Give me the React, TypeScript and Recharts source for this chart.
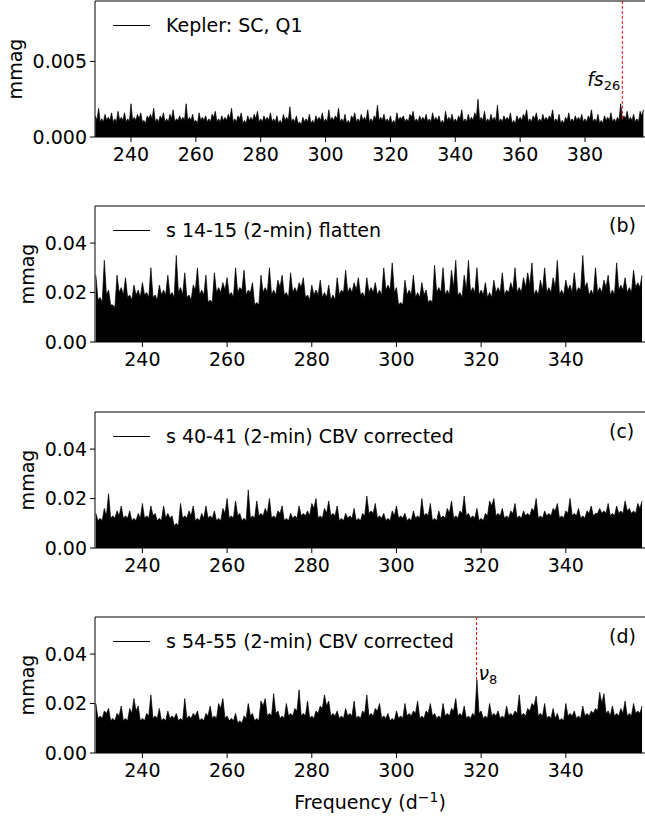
import React from "react";
import { AreaChart, Area, XAxis, YAxis, ReferenceLine } from "recharts";

const FONT = "'DejaVu Sans', sans-serif";

// amplitude spectra: a local peak at every whole d^-1
// and the trough of the noise band half way between two peaks
const freqStart = 229;

// (a) Kepler SC, Q1  (229 ... 398)
const keplerPeaks = [
  0.0014, 0.0019, 0.0012, 0.0015, 0.0013, 0.0016, 0.0012, 0.0017, 0.0013, 0.0016,
  0.0012, 0.0022, 0.0013, 0.0015, 0.0016, 0.0011, 0.0014, 0.0015, 0.0019, 0.0012,
  0.0014, 0.0016, 0.0012, 0.0015, 0.0018, 0.0012, 0.0014, 0.0013, 0.0022, 0.0013,
  0.0015, 0.0011, 0.0016, 0.0013, 0.0014, 0.0012, 0.0015, 0.0017, 0.0012, 0.0014,
  0.0013, 0.0015, 0.0019, 0.0012, 0.0014, 0.0016, 0.0011, 0.0014, 0.0013, 0.0015,
  0.0017, 0.0012, 0.0014, 0.0013, 0.0016, 0.0012, 0.0014, 0.0011, 0.0015, 0.0013,
  0.0020, 0.0012, 0.0014, 0.0010, 0.0013, 0.0012, 0.0015, 0.0011, 0.0014, 0.0013,
  0.0016, 0.0012, 0.0018, 0.0013, 0.0014, 0.0019, 0.0012, 0.0015, 0.0011, 0.0014,
  0.0016, 0.0012, 0.0015, 0.0013, 0.0018, 0.0012, 0.0014, 0.0021, 0.0013, 0.0015,
  0.0012, 0.0014, 0.0011, 0.0016, 0.0013, 0.0014, 0.0012, 0.0015, 0.0017, 0.0012,
  0.0014, 0.0013, 0.0015, 0.0012, 0.0016, 0.0013, 0.0014, 0.0011, 0.0017, 0.0013,
  0.0015, 0.0012, 0.0014, 0.0018, 0.0012, 0.0015, 0.0013, 0.0016, 0.0025, 0.0013,
  0.0017, 0.0012, 0.0015, 0.0013, 0.0021, 0.0012, 0.0014, 0.0013, 0.0016, 0.0011,
  0.0014, 0.0013, 0.0015, 0.0018, 0.0012, 0.0014, 0.0016, 0.0012, 0.0015, 0.0013,
  0.0014, 0.0018, 0.0012, 0.0015, 0.0011, 0.0013, 0.0016, 0.0012, 0.0014, 0.0013,
  0.0015, 0.0012, 0.0014, 0.0018, 0.0012, 0.0015, 0.0011, 0.0014, 0.0013, 0.0016,
  0.0012, 0.0013, 0.0022, 0.0014, 0.0017, 0.0013, 0.0015, 0.0012, 0.0017, 0.0018,
];
const keplerTroughs = [
  0.0011, 0.0010, 0.0010, 0.0011, 0.0011, 0.0010, 0.0010, 0.0011, 0.0011, 0.0010,
  0.0010, 0.0011, 0.0011, 0.0012, 0.0010, 0.0009, 0.0012, 0.0012, 0.0010, 0.0010,
  0.0012, 0.0010, 0.0010, 0.0012, 0.0010, 0.0011, 0.0011, 0.0011, 0.0011, 0.0011,
  0.0010, 0.0009, 0.0011, 0.0011, 0.0010, 0.0010, 0.0013, 0.0010, 0.0010, 0.0011,
  0.0011, 0.0012, 0.0010, 0.0010, 0.0012, 0.0009, 0.0009, 0.0011, 0.0011, 0.0012,
  0.0010, 0.0010, 0.0011, 0.0011, 0.0010, 0.0010, 0.0009, 0.0009, 0.0011, 0.0011,
  0.0010, 0.0010, 0.0009, 0.0008, 0.0010, 0.0010, 0.0009, 0.0009, 0.0011, 0.0011,
  0.0010, 0.0010, 0.0011, 0.0011, 0.0012, 0.0010, 0.0010, 0.0009, 0.0009, 0.0012,
  0.0010, 0.0010, 0.0011, 0.0011, 0.0010, 0.0010, 0.0012, 0.0011, 0.0011, 0.0010,
  0.0010, 0.0009, 0.0009, 0.0011, 0.0012, 0.0010, 0.0010, 0.0013, 0.0010, 0.0010,
  0.0011, 0.0011, 0.0010, 0.0010, 0.0011, 0.0011, 0.0009, 0.0009, 0.0011, 0.0011,
  0.0010, 0.0010, 0.0012, 0.0010, 0.0010, 0.0011, 0.0011, 0.0013, 0.0011, 0.0011,
  0.0010, 0.0010, 0.0011, 0.0011, 0.0010, 0.0010, 0.0011, 0.0011, 0.0009, 0.0009,
  0.0011, 0.0011, 0.0013, 0.0010, 0.0010, 0.0012, 0.0010, 0.0010, 0.0011, 0.0011,
  0.0012, 0.0010, 0.0010, 0.0009, 0.0009, 0.0011, 0.0010, 0.0010, 0.0011, 0.0011,
  0.0010, 0.0010, 0.0012, 0.0010, 0.0010, 0.0009, 0.0009, 0.0011, 0.0011, 0.0010,
  0.0010, 0.0011, 0.0012, 0.0012, 0.0011, 0.0011, 0.0010, 0.0010, 0.0014,
];

// (b) s 14-15 (2-min) flatten  (229 ... 358)
const s1415Peaks = [
  0.027, 0.018, 0.033, 0.021, 0.015, 0.027, 0.022, 0.026, 0.019, 0.023,
  0.021, 0.024, 0.020, 0.030, 0.019, 0.023, 0.021, 0.027, 0.020, 0.035,
  0.022, 0.028, 0.019, 0.023, 0.030, 0.021, 0.027, 0.017, 0.028, 0.022,
  0.024, 0.026, 0.020, 0.030, 0.022, 0.029, 0.021, 0.024, 0.016, 0.027,
  0.022, 0.030, 0.021, 0.025, 0.027, 0.020, 0.028, 0.022, 0.024, 0.026,
  0.019, 0.023, 0.021, 0.025, 0.020, 0.023, 0.019, 0.026, 0.021, 0.029,
  0.022, 0.024, 0.026, 0.020, 0.026, 0.022, 0.024, 0.021, 0.030, 0.023,
  0.032, 0.022, 0.016, 0.025, 0.021, 0.027, 0.020, 0.024, 0.021, 0.017,
  0.031, 0.022, 0.030, 0.021, 0.029, 0.033, 0.020, 0.027, 0.033, 0.022,
  0.030, 0.021, 0.024, 0.020, 0.025, 0.022, 0.028, 0.021, 0.024, 0.030,
  0.022, 0.026, 0.028, 0.032, 0.021, 0.025, 0.030, 0.022, 0.026, 0.033,
  0.021, 0.025, 0.023, 0.028, 0.022, 0.035, 0.024, 0.021, 0.030, 0.022,
  0.025, 0.027, 0.021, 0.032, 0.023, 0.026, 0.022, 0.029, 0.024, 0.027,
];
const s1415Troughs = [
  0.017, 0.016, 0.019, 0.015, 0.014, 0.020, 0.019, 0.018, 0.017, 0.019,
  0.018, 0.019, 0.018, 0.018, 0.017, 0.019, 0.019, 0.019, 0.018, 0.020,
  0.019, 0.018, 0.017, 0.021, 0.019, 0.019, 0.016, 0.016, 0.020, 0.020,
  0.021, 0.019, 0.018, 0.020, 0.021, 0.019, 0.020, 0.015, 0.015, 0.020,
  0.020, 0.019, 0.019, 0.022, 0.019, 0.018, 0.020, 0.020, 0.022, 0.018,
  0.017, 0.019, 0.019, 0.018, 0.018, 0.017, 0.017, 0.019, 0.020, 0.020,
  0.020, 0.021, 0.019, 0.018, 0.020, 0.020, 0.019, 0.019, 0.021, 0.021,
  0.020, 0.015, 0.015, 0.019, 0.019, 0.018, 0.018, 0.019, 0.016, 0.016,
  0.020, 0.020, 0.019, 0.019, 0.022, 0.019, 0.018, 0.021, 0.020, 0.020,
  0.019, 0.019, 0.018, 0.018, 0.020, 0.020, 0.019, 0.020, 0.021, 0.020,
  0.020, 0.022, 0.023, 0.019, 0.019, 0.021, 0.020, 0.020, 0.022, 0.019,
  0.019, 0.021, 0.020, 0.020, 0.021, 0.022, 0.019, 0.019, 0.020, 0.020,
  0.022, 0.019, 0.019, 0.021, 0.021, 0.020, 0.020, 0.022, 0.022,
];

// (c) s 40-41 (2-min) CBV corrected  (229 ... 358)
const s4041Peaks = [
  0.014, 0.012, 0.016, 0.022, 0.013, 0.015, 0.017, 0.013, 0.015, 0.012,
  0.014, 0.018, 0.013, 0.017, 0.014, 0.012, 0.017, 0.014, 0.013, 0.010,
  0.018, 0.013, 0.015, 0.017, 0.012, 0.014, 0.017, 0.013, 0.015, 0.012,
  0.016, 0.020, 0.013, 0.019, 0.014, 0.012, 0.0235, 0.013, 0.019, 0.014,
  0.016, 0.020, 0.013, 0.015, 0.017, 0.012, 0.014, 0.013, 0.017, 0.014,
  0.015, 0.018, 0.020, 0.013, 0.016, 0.019, 0.014, 0.017, 0.012, 0.014,
  0.013, 0.016, 0.012, 0.014, 0.021, 0.015, 0.018, 0.013, 0.014, 0.012,
  0.015, 0.017, 0.013, 0.014, 0.012, 0.015, 0.013, 0.020, 0.014, 0.018,
  0.012, 0.015, 0.013, 0.016, 0.019, 0.013, 0.015, 0.021, 0.014, 0.013,
  0.016, 0.012, 0.014, 0.019, 0.020, 0.014, 0.016, 0.013, 0.015, 0.018,
  0.013, 0.015, 0.014, 0.016, 0.020, 0.013, 0.015, 0.014, 0.016, 0.018,
  0.013, 0.015, 0.020, 0.014, 0.016, 0.013, 0.015, 0.017, 0.014, 0.016,
  0.015, 0.018, 0.014, 0.017, 0.015, 0.019, 0.016, 0.015, 0.018, 0.019,
];
const s4041Troughs = [
  0.011, 0.011, 0.013, 0.012, 0.012, 0.013, 0.012, 0.012, 0.011, 0.011,
  0.012, 0.012, 0.012, 0.013, 0.011, 0.011, 0.012, 0.012, 0.009, 0.009,
  0.012, 0.012, 0.013, 0.011, 0.011, 0.012, 0.012, 0.012, 0.011, 0.011,
  0.014, 0.012, 0.012, 0.013, 0.011, 0.011, 0.012, 0.012, 0.013, 0.013,
  0.014, 0.012, 0.012, 0.014, 0.011, 0.011, 0.012, 0.012, 0.013, 0.013,
  0.013, 0.016, 0.012, 0.012, 0.014, 0.013, 0.013, 0.011, 0.011, 0.012,
  0.012, 0.011, 0.011, 0.013, 0.014, 0.014, 0.012, 0.012, 0.011, 0.011,
  0.013, 0.012, 0.012, 0.011, 0.011, 0.012, 0.012, 0.013, 0.013, 0.011,
  0.011, 0.012, 0.012, 0.014, 0.012, 0.012, 0.014, 0.013, 0.012, 0.012,
  0.011, 0.011, 0.013, 0.017, 0.013, 0.013, 0.012, 0.012, 0.014, 0.012,
  0.012, 0.013, 0.013, 0.015, 0.012, 0.012, 0.013, 0.013, 0.015, 0.012,
  0.012, 0.014, 0.013, 0.013, 0.012, 0.012, 0.014, 0.013, 0.014, 0.014,
  0.014, 0.013, 0.013, 0.014, 0.014, 0.015, 0.014, 0.014, 0.016,
];

// (d) s 54-55 (2-min) CBV corrected  (229 ... 358)
const s5455Peaks = [
  0.020, 0.015, 0.017, 0.018, 0.014, 0.016, 0.019, 0.014, 0.018, 0.022,
  0.019, 0.014, 0.016, 0.0235, 0.015, 0.018, 0.014, 0.017, 0.015, 0.016,
  0.014, 0.022, 0.015, 0.016, 0.017, 0.014, 0.016, 0.019, 0.015, 0.020,
  0.022, 0.015, 0.014, 0.016, 0.013, 0.015, 0.020, 0.016, 0.014, 0.021,
  0.022, 0.016, 0.024, 0.017, 0.015, 0.020, 0.016, 0.018, 0.0255, 0.016,
  0.021, 0.015, 0.017, 0.019, 0.0235, 0.021, 0.016, 0.017, 0.015, 0.018,
  0.016, 0.021, 0.015, 0.017, 0.0235, 0.016, 0.018, 0.020, 0.015, 0.016,
  0.014, 0.017, 0.015, 0.020, 0.016, 0.017, 0.021, 0.015, 0.017, 0.020,
  0.016, 0.015, 0.020, 0.016, 0.018, 0.022, 0.016, 0.019, 0.015, 0.016,
  0.0295, 0.017, 0.015, 0.020, 0.016, 0.017, 0.015, 0.019, 0.016, 0.017,
  0.0235, 0.016, 0.018, 0.020, 0.023, 0.016, 0.020, 0.015, 0.018, 0.016,
  0.014, 0.020, 0.016, 0.017, 0.015, 0.019, 0.016, 0.017, 0.018, 0.0245,
  0.024, 0.017, 0.019, 0.016, 0.018, 0.021, 0.016, 0.020, 0.017, 0.019,
];
const s5455Troughs = [
  0.014, 0.014, 0.016, 0.013, 0.013, 0.015, 0.013, 0.013, 0.016, 0.017,
  0.013, 0.013, 0.015, 0.014, 0.014, 0.013, 0.013, 0.014, 0.014, 0.013,
  0.013, 0.014, 0.014, 0.015, 0.013, 0.013, 0.015, 0.014, 0.014, 0.018,
  0.014, 0.013, 0.013, 0.012, 0.012, 0.014, 0.015, 0.013, 0.013, 0.019,
  0.015, 0.015, 0.016, 0.014, 0.014, 0.015, 0.015, 0.017, 0.015, 0.015,
  0.014, 0.014, 0.016, 0.018, 0.019, 0.015, 0.015, 0.014, 0.014, 0.015,
  0.015, 0.014, 0.014, 0.016, 0.015, 0.015, 0.017, 0.014, 0.014, 0.013,
  0.013, 0.014, 0.014, 0.015, 0.015, 0.016, 0.014, 0.014, 0.016, 0.015,
  0.014, 0.014, 0.015, 0.015, 0.017, 0.015, 0.015, 0.014, 0.014, 0.015,
  0.016, 0.014, 0.014, 0.015, 0.015, 0.014, 0.014, 0.015, 0.015, 0.016,
  0.015, 0.015, 0.017, 0.019, 0.015, 0.015, 0.014, 0.014, 0.014, 0.013,
  0.013, 0.015, 0.015, 0.014, 0.014, 0.015, 0.015, 0.016, 0.017, 0.020,
  0.016, 0.015, 0.015, 0.015, 0.016, 0.015, 0.015, 0.016, 0.016,
];

const xTicksKepler = [240, 260, 280, 300, 320, 340, 360, 380];
const xTicksTess = [240, 260, 280, 300, 320, 340];
const yTicksKepler = [0, 0.005];
const yTicksTess = [0, 0.02, 0.04];

const fs26 = 391.5;
const nu8 = 318.9;

const PLOT_H = 136;
const AXIS_W = 95;
const FS = 19;

function toSpectrum(peaks, troughs) {
  const rows = [];
  peaks.forEach((a, i) => {
    rows.push({ f: freqStart + i, a });
    if (i < troughs.length) rows.push({ f: freqStart + i + 0.5, a: troughs[i] });
  });
  return rows;
}

// amplitude of the sample closest to a given frequency
function ampAt(rows, f) {
  let best = rows[0];
  rows.forEach((r) => {
    if (Math.abs(r.f - f) < Math.abs(best.f - f)) best = r;
  });
  return best.a;
}

function Sub({ base, sub }) {
  return (
    <>
      <tspan fontStyle="italic">{base}</tspan>
      <tspan fontSize={13} dy={4}>{sub}</tspan>
    </>
  );
}

function Panel({ top, peaks, troughs, xDomain, xTicks, yMax, yTicks, digits, legend, tag, marker, showXLabel, labelX }) {
  const data = toSpectrum(peaks, troughs);
  const mt = 6;
  const xh = 30;
  const h = showXLabel ? 215 : 172;
  const tickStyle = { fill: "#000", fontSize: FS, fontFamily: FONT };

  return (
    <div style={{ position: "absolute", left: 0, top, width: 645, height: h }}>
      <AreaChart
        width={645}
        height={h}
        data={data}
        margin={{ top: mt, right: 0, bottom: h - mt - PLOT_H - xh, left: 0 }}
      >
        <XAxis
          dataKey="f"
          type="number"
          domain={xDomain}
          allowDataOverflow
          ticks={xTicks}
          height={xh}
          tickSize={5}
          tickMargin={6}
          tick={tickStyle}
          axisLine={{ stroke: "#000" }}
          tickLine={{ stroke: "#000" }}
        />
        <YAxis
          type="number"
          domain={[0, yMax]}
          allowDataOverflow
          ticks={yTicks}
          width={AXIS_W}
          tickSize={5}
          tickMargin={3}
          tick={tickStyle}
          tickFormatter={(v) => v.toFixed(digits)}
          axisLine={{ stroke: "#000" }}
          tickLine={{ stroke: "#000" }}
        />
        <ReferenceLine y={yMax} stroke="#000" strokeWidth={1} />
        <Area
          dataKey="a"
          type="linear"
          stroke="#000"
          strokeWidth={0.7}
          fill="#000"
          fillOpacity={1}
          isAnimationActive={false}
          dot={false}
          activeDot={false}
        />
        {marker && (
          <ReferenceLine
            segment={[
              { x: marker.x, y: ampAt(data, marker.x) },
              { x: marker.x, y: yMax },
            ]}
            stroke="#ff0000"
            strokeWidth={1}
            strokeDasharray="3 2"
          />
        )}
        {marker && (
          <ReferenceLine
            x={marker.x}
            stroke="none"
            label={({ viewBox }) => (
              <text
                x={viewBox.x + marker.dx}
                y={viewBox.y + marker.dy}
                textAnchor={marker.anchor}
                fontSize={FS}
                fontFamily={FONT}
                fill="#000"
              >
                <Sub base={marker.base} sub={marker.sub} />
              </text>
            )}
          />
        )}
      </AreaChart>

      <div
        style={{
          position: "absolute",
          left: 113,
          top: mt + 24,
          width: 37,
          borderTop: "1px solid #000",
        }}
      />
      <div
        style={{
          position: "absolute",
          left: 166,
          top: mt + 12,
          fontFamily: FONT,
          fontSize: FS,
          lineHeight: "24px",
          whiteSpace: "nowrap",
        }}
      >
        {legend}
      </div>
      {tag && (
        <div
          style={{
            position: "absolute",
            left: 609,
            top: mt + 7,
            fontFamily: FONT,
            fontSize: FS,
            lineHeight: "24px",
          }}
        >
          {tag}
        </div>
      )}
      <div
        style={{
          position: "absolute",
          left: labelX - 40,
          top: mt + PLOT_H / 2 - 12,
          width: 80,
          textAlign: "center",
          transform: "rotate(-90deg)",
          fontFamily: FONT,
          fontSize: FS,
          lineHeight: "24px",
        }}
      >
        mmag
      </div>
      {showXLabel && (
        <div
          style={{
            position: "absolute",
            left: AXIS_W,
            width: 645 - AXIS_W,
            top: mt + PLOT_H + 32,
            textAlign: "center",
            fontFamily: FONT,
            fontSize: FS,
            lineHeight: "24px",
          }}
        >
          Frequency (d<sup style={{ fontSize: 14 }}>−1</sup>)
        </div>
      )}
    </div>
  );
}

export default function App() {
  return (
    <div
      style={{
        position: "absolute",
        left: 0,
        top: 0,
        width: 645,
        height: 819,
        overflow: "hidden",
        background: "#fff",
      }}
    >
      <Panel
        top={-5}
        peaks={keplerPeaks}
        troughs={keplerTroughs}
        xDomain={[228.9, 398.5]}
        xTicks={xTicksKepler}
        yMax={0.009}
        yTicks={yTicksKepler}
        digits={3}
        legend="Kepler: SC, Q1"
        tag={null}
        labelX={15}
        marker={{ x: fs26, base: "fs", sub: "26", dx: -2, dy: 85, anchor: "end" }}
      />
      <Panel
        top={200}
        peaks={s1415Peaks}
        troughs={s1415Troughs}
        xDomain={[228.8, 358.7]}
        xTicks={xTicksTess}
        yMax={0.055}
        yTicks={yTicksTess}
        digits={2}
        legend="s 14-15 (2-min) flatten"
        tag="(b)"
        labelX={27}
      />
      <Panel
        top={406}
        peaks={s4041Peaks}
        troughs={s4041Troughs}
        xDomain={[228.8, 358.7]}
        xTicks={xTicksTess}
        yMax={0.055}
        yTicks={yTicksTess}
        digits={2}
        legend="s 40-41 (2-min) CBV corrected"
        tag="(c)"
        labelX={27}
      />
      <Panel
        top={611}
        peaks={s5455Peaks}
        troughs={s5455Troughs}
        xDomain={[228.8, 358.7]}
        xTicks={xTicksTess}
        yMax={0.055}
        yTicks={yTicksTess}
        digits={2}
        legend="s 54-55 (2-min) CBV corrected"
        tag="(d)"
        labelX={27}
        showXLabel
        marker={{ x: nu8, base: "ν", sub: "8", dx: 2, dy: 63, anchor: "start" }}
      />
    </div>
  );
}
